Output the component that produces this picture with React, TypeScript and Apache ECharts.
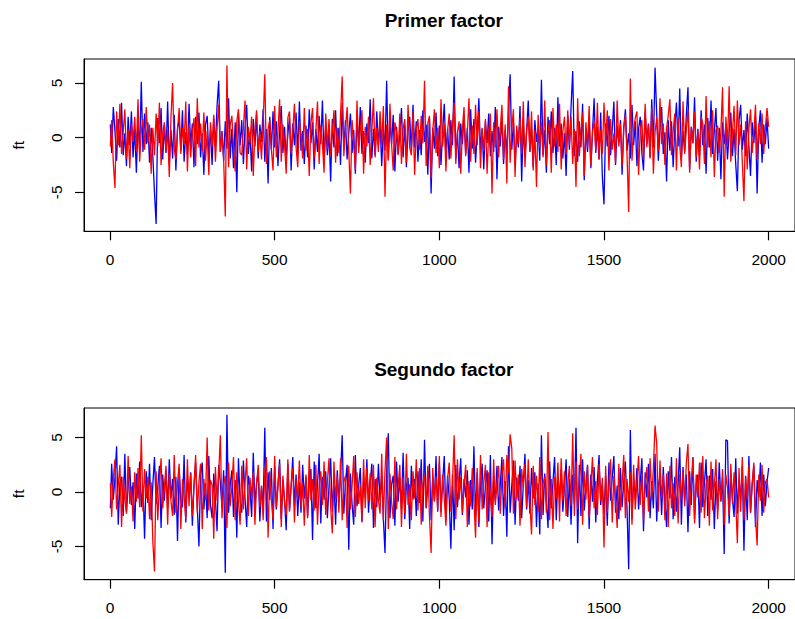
import React, { useEffect, useRef } from "react";
import * as echarts from "echarts";

const TITLES = ["Primer factor", "Segundo factor"];
const Y_NAME = "ft";
const X_TICKS = [0, 500, 1000, 1500, 2000];
const Y_TICKS = [-5, 0, 5];

// time index of each transcribed point (every 5th observation, 1..2000)
const T_INDEX = Array.from({ length: 401 }, (_, i) => (i === 0 ? 1 : i * 5));

// Primer factor — blue series (one row = 100 observations)
const f1Blue = [
  1.2, -1.4, 2.8, 0.6, -2.1, 1.7, -0.9, 3.2, -1.6, 0.4, -2.6, 1.9, -0.7, 2.4, -1.8, 0.8, -3.2, 1.5, -1.1, 5.1,
  -1.3, 2.2, -0.6, 1.4, -2.3, 0.9, -1.7, -5.0, -7.9, 1.8, -0.5, 2.7, -2.0, 1.1, -1.4, 3.3, -2.4, 0.7, -1.9, 2.1,
  -3.0, 0.9, 1.6, -1.2, 2.5, -2.2, 0.5, -1.5, 3.1, -0.8, 1.3, -2.7, 1.9, -0.6, 2.3, -1.8, 0.4, -3.4, 1.2, 2.0,
  -1.6, 0.7, -2.5, 1.8, -0.9, 2.9, 5.2, -1.3, 0.6, -2.1, 1.5, -1.0, 3.6, -1.9, 0.8, -2.8, 1.4, -5.0, 2.2, -0.7,
  1.6, -2.4, 0.9, 3.0, -1.5, 0.5, -3.1, 1.7, -0.8, 2.1, -1.9, 1.2, -0.4, 2.6, -2.2, 0.8, -4.2, 1.9, -1.1, 2.4,
  -0.9, 1.5, -2.6, 0.7, 2.9, -1.4, 1.0, -2.0, 0.3, 1.8, -3.0, 1.3, -0.7, 2.3, -1.6, 3.3, -1.2, 0.6, -2.4, 1.1,
  -1.8, 2.6, -0.5, 1.4, -2.9, 0.8, -1.3, 2.0, -0.6, 3.4, -2.2, 1.1, -1.6, 0.5, -4.0, 1.7, -0.9, 2.5, -1.7, 0.9,
  -2.5, 3.2, -1.0, 1.6, -2.0, 0.4, 2.2, -1.4, 0.7, -3.3, 1.9, -0.8, 2.8, -1.5, 0.6, -2.3, 1.3, -0.5, 3.5, -1.9,
  0.8, -1.6, 2.4, -0.7, 1.5, -2.6, 0.9, -1.2, 5.2, -2.0, 1.4, -0.6, 2.1, -3.1, 1.0, -1.5, 0.3, 2.7, -1.8, 1.2,
  -2.7, 0.6, 1.9, -1.3, 3.0, -0.9, 1.5, -2.2, 0.7, -1.6, 2.5, -0.4, 1.2, -3.4, 1.8, -5.1, 0.9, -1.0, 2.3, -1.7,
  1.1, -2.5, 0.6, 3.1, -1.4, 0.8, -2.0, 1.6, -0.7, 5.6, -1.9, 0.5, -2.8, 1.3, -0.6, 2.0, -1.5, 0.9, -3.2, 2.6,
  -1.0, 1.7, -2.3, 0.4, 3.6, -1.2, 0.8, -2.9, 1.5, -0.5, 2.2, -1.7, 0.6, -1.3, 2.8, -3.8, 1.0, -0.8, 1.9, -2.4,
  0.7, -1.5, 2.3, 5.8, -1.1, 1.4, -2.6, 0.5, -0.9, 2.9, -4.0, 1.2, -1.8, 0.6, 3.4, -1.3, 0.8, -2.7, 1.6, -0.4,
  1.0, -2.1, 5.3, -1.6, 0.7, -3.2, 1.9, -0.6, 2.4, -1.4, 0.9, -2.5, 3.7, -0.8, 1.3, -1.9, 0.4, -3.5, 2.0, -1.1,
  2.8, 6.1, -1.7, 0.6, -2.2, 1.5, -0.9, 3.1, -3.9, 0.8, -1.3, 1.7, -2.8, 0.5, 3.6, -1.4, 1.0, -2.0, 2.3, -3.6,
  -6.1, 1.3, -0.8, 2.0, -1.6, 0.7, 3.3, -2.5, 1.1, -0.5, 1.6, -3.4, 0.9, 2.6, -1.2, 0.4, -1.9, 3.0, -0.7, 1.5,
  -2.6, 0.8, 1.9, -1.4, -3.0, 2.4, -0.6, 1.3, -1.8, 3.5, -0.9, 6.4, 2.2, -2.1, 0.7, 2.8, -1.5, 0.5, -4.0, 1.6,
  -1.2, 1.5, -2.7, 0.9, 3.2, -0.8, 4.5, -1.8, 0.6, -1.3, 2.1, 4.6, -2.9, 1.0, -0.5, 3.7, -2.2, 0.8, -1.6, 2.5,
  -0.7, 1.2, -3.3, 1.8, -0.9, 3.4, -1.5, 0.6, 2.7, -2.1, 0.9, -3.8, 1.4, -0.6, 1.2, -2.0, 0.5, 2.3, -1.7, 0.8,
  -2.4, -4.9, 1.6, 3.0, -1.1, 0.7, -1.7, 2.2, -0.8, -3.5, 1.4, -0.5, 1.9, -5.1, 0.9, 2.5, -2.3, 1.2, -0.6, 1.8,
  -1.0,
];

// Primer factor — red series
const f1Red = [
  -0.8, 1.6, -2.3, -4.6, 2.4, -0.7, 3.1, -1.5, 0.5, 2.6, -1.9, 0.8, -2.8, 1.3, -0.4, 1.9, -1.2, 3.5, -2.2, 0.6,
  1.7, -1.1, 2.8, -0.5, 1.2, -3.3, 0.9, -1.6, 2.2, -0.8, 3.2, -2.5, 0.4, 1.4, -1.3, 0.7, -3.6, 1.8, 5.0, -1.0,
  -2.0, 0.7, 2.7, -1.5, 0.9, -0.6, 3.3, -3.1, 1.1, -1.8, 0.5, 1.8, -2.6, 3.6, -0.9, 1.3, -1.2, 2.3, -2.1, 0.6,
  -3.4, 1.4, -0.7, 2.1, -2.2, 0.8, 3.0, -1.3, 0.5, -1.9, -7.2, 6.6, -2.7, 1.2, 2.0, -0.8, -3.1, 1.5, 2.6, -1.4,
  -1.6, 0.9, 3.4, -2.9, 1.0, -0.5, 1.9, -3.5, 0.7, 2.5, -1.3, 0.6, -2.0, 1.4, 5.8, -2.4, 0.8, 1.6, -1.1, -3.0,
  2.9, -1.8, 0.6, 3.5, -2.2, 1.2, -0.7, -3.3, 1.8, 2.4, -1.5, 0.5, 3.1, -0.9, -2.7, 1.5, 0.3, -1.9, 2.7, -1.2,
  0.8, -3.5, 1.3, 2.7, -1.9, 0.6, 3.3, -2.4, 1.1, -0.6, -3.2, 2.2, -1.0, 1.7, -1.6, 0.4, 2.5, -2.3, 0.9, -1.4,
  2.1, 5.6, -1.7, 0.8, 2.8, -1.2, -5.1, 1.6, -0.5, -2.9, 3.4, -1.4, 0.7, 2.5, -3.3, 1.0, -0.8, 1.9, -2.5, 0.6,
  3.6, -1.8, 0.9, -1.3, 2.4, -0.7, 2.9, -5.4, 1.2, -2.1, 3.1, -0.6, -3.0, 1.4, 0.5, -1.6, 2.2, -2.4, 0.8, 1.7,
  -2.3, 3.0, -0.9, -1.6, 2.4, -3.4, 0.7, 1.7, -1.1, 2.0, -0.5, 5.2, -2.6, 1.3, 2.0, -3.7, 0.6, 2.6, -1.4, 0.9,
  -2.8, 3.5, -0.8, 1.3, -3.1, 0.6, 2.2, -1.9, 1.0, 3.2, -2.4, 0.5, 1.5, -3.3, 0.8, 2.8, -1.7, 0.4, 3.6, -2.2,
  1.1, -1.5, 3.0, -0.7, 2.4, -2.8, 0.9, -1.2, 1.7, -3.3, 0.6, 2.2, -5.1, 1.4, -0.9, 2.6, -1.8, 0.7, 3.0, -2.0,
  1.2, -4.2, 4.7, -2.3, 0.8, 2.6, -3.6, 1.1, -0.5, 1.8, -1.4, 3.3, -2.7, 0.6, 1.9, -1.3, 2.4, -3.0, 0.7, -4.5,
  2.1, -0.9, 1.4, -1.8, 3.4, -2.5, 0.5, 1.6, -3.2, 2.7, -0.8, 1.2, -1.3, 3.1, -2.9, 0.6, 1.9, -1.5, 2.5, -0.7,
  1.9, -2.4, 0.8, -4.5, 3.6, -1.7, 0.6, 2.3, -3.5, 1.4, -0.9, 2.9, -2.6, 0.5, 1.5, -1.2, 3.2, -2.0, 0.7, -1.5,
  3.2, -0.6, 2.5, -3.0, 1.7, -1.1, 0.4, -2.3, 3.4, -0.8, 1.3, -2.6, 0.9, 2.1, -1.6, -6.8, 5.4, -2.1, 0.6, 1.8,
  2.4, -3.4, 0.7, 1.6, -2.0, 3.1, -0.9, 1.2, -1.9, 2.7, -3.3, 0.5, 1.8, -1.2, 3.6, -0.6, 1.3, -2.5, 0.9, 2.0,
  3.5, -1.6, 0.6, 2.2, -3.0, 1.8, -0.7, -2.7, 3.3, -1.5, 0.8, 2.6, -3.2, 1.0, -0.5, 2.4, -1.8, 0.6, -2.9, 1.9,
  1.3, -2.4, 3.8, -0.9, 1.5, -1.8, 2.5, -3.6, 0.7, 1.1, -1.4, 0.6, 4.6, -5.4, 1.9, -0.8, 4.7, -2.2, 0.5, 2.9,
  -1.6, 3.4, -0.7, 1.2, -2.2, -5.8, 1.5, -2.9, 0.8, 2.6, -1.4, 0.5, 3.0, -2.0, 1.3, -0.6, 2.2, -1.5, 0.9, 2.7,
  1.0,
];

// Segundo factor — blue series
const f2Blue = [
  -1.5, 2.6, -0.7, 1.3, 4.2, -3.0, 0.8, 1.4, -2.2, 3.5, -1.8, 0.5, 2.3, -1.2, 0.9, -3.4, 1.7, -0.6, 2.8, -1.4,
  0.6, -4.3, 1.9, -1.0, 2.6, -2.6, 0.7, 3.2, -1.1, 0.4, 2.4, -3.3, 1.6, -0.8, 2.0, -1.5, 3.0, -0.6, 1.2, -2.1,
  1.4, -4.5, 2.2, -0.9, -1.4, 3.4, -2.8, 1.2, -0.5, 1.8, -3.1, 0.6, 2.7, -1.3, -5.0, 1.5, 2.7, -1.6, 0.8, -2.4,
  3.3, -1.2, -2.4, 1.7, -0.6, -3.6, 2.5, 0.9, -1.5, 2.0, -7.4, 7.1, -1.9, 0.7, 2.0, -2.3, 1.1, -4.2, 3.1, -0.8,
  -1.9, 2.9, -0.6, -3.2, 1.5, 0.4, -2.3, 3.6, -1.2, 0.8, 1.9, -2.7, 0.5, -1.4, 5.9, -2.7, 1.8, -0.7, 2.2, -3.4,
  2.3, -1.6, 0.7, 3.0, -2.5, 1.1, -0.8, -3.5, 2.6, -1.7, 0.5, 3.2, -1.3, 1.6, -2.2, 0.9, -1.9, 2.5, -0.6, 1.4,
  -2.2, 0.8, 2.1, -4.4, 2.8, -1.5, 0.6, 3.5, -2.9, 1.4, -0.7, 1.9, -2.4, 0.5, 3.1, -1.8, 1.0, -3.0, 2.0, -0.9,
  1.6, 5.2, -2.0, 0.9, 2.5, -5.3, 1.7, -1.1, -3.0, 3.4, -1.3, 0.6, 2.2, -2.7, 1.0, -0.5, 3.0, -1.9, 0.8, 2.6,
  -3.3, 1.2, -1.4, 2.6, -0.8, 1.5, -2.4, -5.6, 1.9, 5.4, -2.4, 0.7, 1.5, -3.1, 2.8, -0.9, 1.3, -1.6, 3.6, -2.5,
  0.6, 1.3, -3.4, 2.4, -0.7, 1.2, -2.2, 1.9, -1.0, 3.0, -2.7, 4.8, -1.5, 0.5, 2.6, -2.6, 1.4, -0.8, 3.3, -1.8,
  2.7, -1.8, 0.9, 3.3, -2.6, 1.5, -0.6, -5.2, 1.6, -3.5, 2.5, -1.4, 0.8, 3.1, -2.1, 1.2, -0.5, 2.0, -3.0, 1.1,
  -1.6, 4.2, -2.3, 1.8, -3.2, 0.7, 2.6, -1.5, 0.5, 2.0, -2.7, 3.4, -4.8, 1.3, -0.9, 2.4, -1.7, 0.6, 3.2, -2.2,
  1.0, -4.1, 4.2, -1.9, 0.6, 2.9, -3.0, 1.3, -0.8, 2.4, -2.4, 0.7, 3.5, -1.6, 1.1, -2.0, 2.2, -0.6, 1.8, -3.2,
  0.8, -3.9, 5.2, -2.1, 1.7, -0.7, -3.3, 2.8, -1.5, 0.9, 3.2, -2.6, 1.4, -0.6, 2.1, -1.8, 0.5, 3.0, -2.3, 1.2,
  -3.0, 1.6, -1.1, 5.9, -4.7, 2.5, -2.2, 3.0, -1.7, 0.6, 2.5, -3.4, 1.6, -0.9, 2.3, -2.8, 1.1, 3.4, -1.2, 0.7,
  -2.0, 1.5, -3.1, 2.7, -0.8, 1.3, 3.3, -1.9, 0.6, -2.5, 2.2, -1.4, 0.9, 2.8, -1.6, -7.1, 5.7, -2.5, 1.2, -0.7,
  2.2, -1.6, 0.8, 3.1, -3.6, 1.8, -0.5, 2.6, -2.4, 1.0, -1.5, 3.5, -2.7, 0.6, 1.4, -2.1, 2.3, -0.9, -3.2, 1.9,
  -0.6, 3.2, -2.5, 1.4, -1.8, 0.7, 4.1, -3.0, 2.3, -0.8, 1.6, -3.7, 1.9, -1.2, 3.2, -2.5, 0.6, 1.6, -3.3, 2.7,
  -1.4, 0.8, 3.0, -2.2, 1.5, -0.7, 2.1, -3.4, 1.0, -1.6, 2.7, -0.9, 1.3, -5.7, 4.8, 4.7, -2.9, 1.7, -0.6, -2.3,
  3.1, -2.0, 1.2, -0.8, 2.4, -5.4, 1.5, -2.6, 3.3, -1.9, 0.7, 2.4, -3.2, 1.1, -0.5, 2.7, -2.2, 1.6, -1.3, 0.9,
  2.2,
];

// Segundo factor — red series
const f2Red = [
  0.8, -2.3, 1.2, 3.0, -1.6, 0.6, 2.5, -3.2, 1.4, -0.7, -2.0, 3.3, -1.1, 0.5, -2.7, 1.8, -0.9, 2.2, -1.4, 5.2,
  -1.8, 2.1, -0.6, 1.4, -2.5, 0.9, -4.5, -7.3, 1.9, -2.6, 0.7, 3.1, -1.5, 0.4, 2.4, -3.0, 1.7, -0.8, -2.2, 3.4,
  -1.9, 0.8, 2.6, -3.4, 1.2, -0.5, -2.5, 3.0, -1.3, 1.7, -2.2, 0.6, 3.4, -1.9, 0.9, 2.6, -3.4, 1.2, -0.7, 5.0,
  -1.7, 1.1, 0.6, -4.3, 2.3, -0.8, 1.6, 5.2, -2.4, 0.7, 1.5, -3.3, 2.7, -1.3, 0.5, 3.2, -2.6, 1.8, -0.9, -3.0,
  2.4, -1.6, 0.8, 3.1, -2.2, 1.3, -0.5, 1.9, -3.0, 0.7, 2.5, -1.4, 0.6, -2.6, 1.8, 3.2, -4.2, 1.9, -0.8, -2.5,
  3.3, -1.4, 0.5, 2.6, -3.2, 1.5, -0.9, -2.1, 3.0, -1.8, 0.7, 2.2, -2.8, 1.1, -0.6, 2.9, -1.5, 0.8, -3.1, 1.6,
  -2.4, 3.4, -0.8, 1.2, -1.7, 2.5, -3.0, 0.6, 1.9, -1.2, 2.8, -2.1, 0.9, 3.1, -1.4, -3.8, 2.8, -0.7, 1.5, -1.9,
  3.1, -2.6, 0.9, 1.5, -3.3, 2.4, -1.6, 0.5, 3.3, -2.3, 1.8, -1.1, 0.6, -2.8, 3.0, -1.5, 2.3, -0.8, 1.7, -1.6,
  2.5, -3.2, 1.3, -0.7, -2.0, 3.5, -2.6, 1.9, 5.0, -3.4, 1.7, -0.9, -2.5, 3.2, -1.6, 0.6, 2.5, -3.2, 1.3, -2.0,
  3.5, -1.2, 0.7, -2.6, 1.9, -0.6, 3.0, -1.7, 2.2, -3.0, 0.8, 1.6, -1.4, 2.4, -2.2, -5.6, 2.2, -0.9, 1.4, -1.7,
  3.3, -2.3, 1.6, -0.6, -3.1, 1.2, 2.7, -1.8, 0.9, 5.2, -2.5, 3.0, -0.7, 1.4, -1.9, 0.6, 2.5, -3.2, 1.0, -1.3,
  2.2, -0.8, -4.2, 2.2, -2.8, 3.4, -1.6, 0.8, 2.5, -3.2, 1.8, -0.5, -2.3, 3.0, -1.2, 0.7, 2.4, -2.0, 1.5, 3.0,
  -1.5, 3.4, 1.8, 5.3, 4.0, -2.0, 2.9, -0.6, 1.6, -3.1, 2.1, 0.4, 2.6, -1.4, 3.0, -0.9, -3.9, 2.4, -1.2, 1.5,
  -1.8, 3.2, -2.5, 0.8, 1.4, -1.9, 5.5, -2.6, 1.2, -3.4, 1.4, -0.6, 2.7, -2.7, 3.1, -0.8, 1.9, -2.2, 0.7, 2.4,
  -1.3, 5.4, -2.2, 2.8, -1.6, 0.9, 3.5, -3.0, 1.9, -0.7, 2.4, -2.4, 0.6, 3.2, -1.5, 1.0, -2.1, 2.6, -0.8, 1.3,
  -5.1, 2.4, -1.9, 0.7, 3.0, -2.8, 1.5, -0.6, -3.3, 2.6, -1.7, 0.8, 3.4, -2.4, 1.2, -0.9, 1.8, -3.0, 2.5, -1.6,
  0.9, 3.3, -1.2, 1.7, -2.6, 0.6, 2.3, -1.8, 3.1, -0.7, 2.2, 6.1, 4.5, -1.8, 2.9, -0.6, 1.6, -2.6, 1.7, -3.2,
  2.4, -1.5, 0.8, -2.2, 3.1, -2.9, 1.6, -0.7, 2.0, -1.3, 2.7, 4.4, -2.2, 0.9, 3.1, -2.9, 1.6, -0.5, 2.7, -1.9,
  3.3, -2.4, 0.7, 1.5, -3.1, 2.8, -1.7, 0.5, 3.0, -2.5, 1.2, -0.8, 2.1, -3.0, 1.6, 0.4, -2.2, 2.6, -1.1, 1.8,
  -0.9, -4.7, 2.2, -1.8, 3.2, -2.6, 1.4, -0.7, 2.5, -1.9, 0.8, 2.7, -2.3, -4.9, 1.6, -0.8, 2.5, -1.9, 0.9, 1.2,
  -0.5,
];

const Y_RANGES = [
  [-8.56, 7.19],
  [-8.05, 7.71],
];
const X_RANGE = [-79, 2080];

const FONT = "'Liberation Sans', Arial, Helvetica, sans-serif";

const pairs = (vals: number[]) => vals.map((v, i) => [T_INDEX[i], v]);

export default function App() {
  const ref = useRef<HTMLDivElement>(null);

  useEffect(() => {
    if (!ref.current) return;
    const chart = echarts.init(ref.current, undefined, { renderer: "svg" });

    const grids = [
      { left: 84, top: 59, width: 719.6, height: 172.3 },
      { left: 84, top: 408, width: 719.6, height: 171.7 },
    ];

    const axisLine = { show: true, onZero: false, lineStyle: { color: "#000", width: 1 } };

    const xAxis = grids.map((_, gi) => ({
      type: "value",
      gridIndex: gi,
      min: X_RANGE[0],
      max: X_RANGE[1],
      axisLine,
      splitLine: { show: false },
      axisTick: {
        show: true,
        inside: false,
        length: 9,
        customValues: X_TICKS,
        lineStyle: { color: "#000", width: 1.2 },
      },
      axisLabel: {
        customValues: X_TICKS,
        formatter: (v: number) => String(v),
        fontSize: 15.5,
        color: "#000",
        margin: 20,
        fontFamily: FONT,
      },
    }));

    const yAxis = grids.map((_, gi) => ({
      type: "value",
      gridIndex: gi,
      min: Y_RANGES[gi][0],
      max: Y_RANGES[gi][1],
      name: Y_NAME,
      nameLocation: "middle",
      nameRotate: 90,
      nameGap: 58,
      nameTextStyle: { fontSize: 15.5, color: "#000", fontFamily: FONT },
      axisLine,
      splitLine: { show: false },
      axisTick: {
        show: true,
        inside: false,
        length: 9,
        customValues: Y_TICKS,
        lineStyle: { color: "#000", width: 1.2 },
      },
      axisLabel: {
        customValues: Y_TICKS,
        formatter: (v: number) => String(v),
        rotate: 90,
        fontSize: 15.5,
        color: "#000",
        margin: 20,
        fontFamily: FONT,
      },
    }));

    const mk = (data: number[], gi: number, color: string) => ({
      type: "line",
      xAxisIndex: gi,
      yAxisIndex: gi,
      data: pairs(data),
      showSymbol: false,
      symbol: "none",
      silent: true,
      lineStyle: { color, width: 1.3 },
      itemStyle: { color },
    });

    chart.setOption({
      animation: false,
      textStyle: { fontFamily: FONT },
      grid: grids.map((g) => ({
        ...g,
        show: true,
        borderColor: "#000",
        borderWidth: 1,
        backgroundColor: "transparent",
      })),
      xAxis,
      yAxis,
      series: [
        mk(f1Blue, 0, "#0000ff"),
        mk(f1Red, 0, "#ff0000"),
        mk(f2Blue, 1, "#0000ff"),
        mk(f2Red, 1, "#ff0000"),
      ],
      graphic: TITLES.map((t, i) => ({
        type: "text",
        x: 443.8,
        y: i === 0 ? 20 : 369,
        style: {
          text: t,
          font: `bold 19px ${FONT}`,
          fill: "#000",
          textAlign: "center",
          textVerticalAlign: "middle",
        },
      })),
    });

    return () => chart.dispose();
  }, []);

  return (
    <div
      ref={ref}
      style={{ position: "fixed", left: 0, top: 0, width: 795, height: 619, background: "#fff" }}
    />
  );
}
